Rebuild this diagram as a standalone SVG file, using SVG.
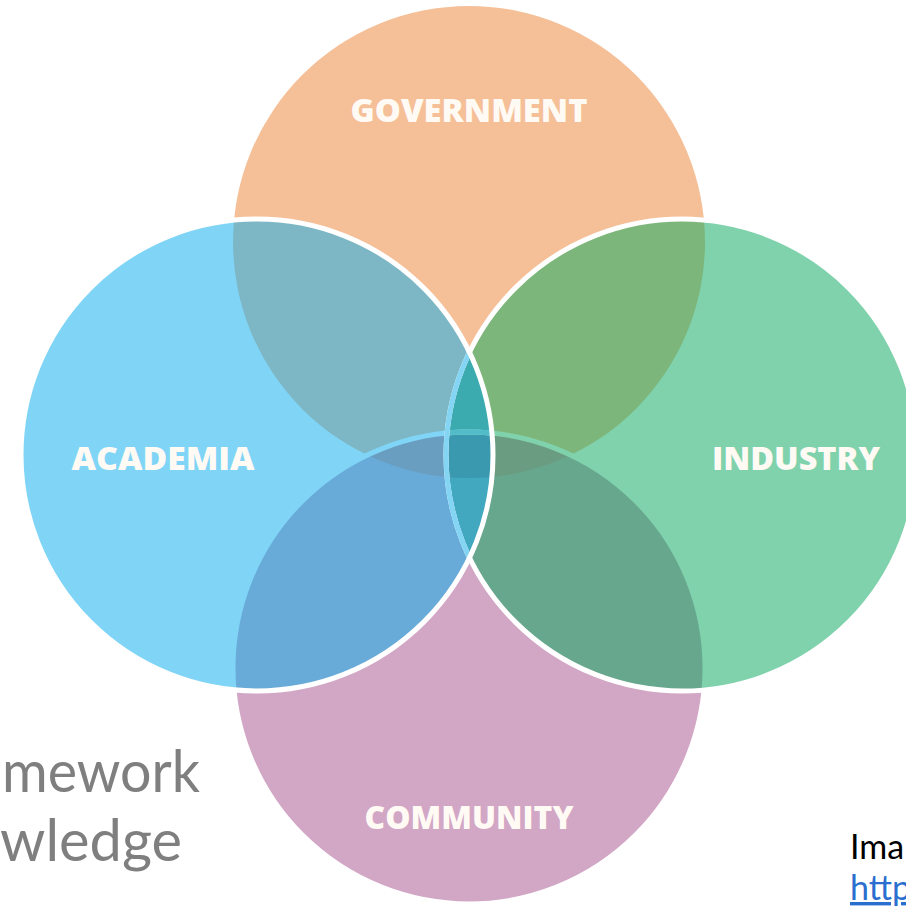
<svg xmlns="http://www.w3.org/2000/svg" width="906" height="908" viewBox="0 0 906 908">
  <style>
    .lbl{font-family:"Open Sans","Liberation Sans",sans-serif;font-weight:800;font-size:32px;fill:#fffaf4;text-anchor:middle}
    .ring{fill:none;stroke-width:5}
    .side{font-family:Lato,"Liberation Sans",sans-serif;font-size:58px;fill:#7f7f7f}
    .note{font-family:Lato,"Liberation Sans",sans-serif;font-size:34px}
  </style>
  <defs>
    <circle id="cG" cx="469" cy="242" r="236"/>
    <circle id="cA" cx="257" cy="455" r="236"/>
    <circle id="cI" cx="682" cy="455" r="236"/>
    <circle id="cC" cx="469" cy="668" r="236"/>
    <!-- lens shapes where two opposite circles meet -->
    <path id="lensGC" d="M367.4 455A236 236 0 0 1 570.6 455A236 236 0 0 1 367.4 455Z"/>
    <path id="lensAI" d="M469.5 352.3A236 236 0 0 1 469.5 557.7A236 236 0 0 1 469.5 352.3Z"/>
    <clipPath id="inG"><use href="#cG"/></clipPath>
    <clipPath id="inA"><use href="#cA"/></clipPath>
    <clipPath id="inI"><use href="#cI"/></clipPath>
    <clipPath id="inC"><use href="#cC"/></clipPath>
    <clipPath id="inGC"><use href="#lensGC"/></clipPath>
    <clipPath id="inAI"><use href="#lensAI"/></clipPath>
  </defs>

  <rect width="906" height="908" fill="#ffffff"/>

  <g id="government">
    <use href="#cG" fill="#f5bf98"/>
    <text class="lbl" x="469" y="122" textLength="237" lengthAdjust="spacingAndGlyphs">GOVERNMENT</text>
  </g>
  <g id="community">
    <use href="#cC" fill="#d2a6c5"/>
    <!-- white rim; the side circles are painted over it -->
    <use href="#cC" class="ring" stroke="#ffffff"/>
    <text class="lbl" x="469" y="829" textLength="209" lengthAdjust="spacingAndGlyphs">COMMUNITY</text>
  </g>
  <g id="academia">
    <use href="#cA" fill="#80d5f7"/>
    <text class="lbl" x="163" y="470" textLength="183" lengthAdjust="spacingAndGlyphs">ACADEMIA</text>
  </g>
  <g id="industry">
    <use href="#cI" fill="#80d2ad"/>
    <text class="lbl" x="796" y="470" textLength="168" lengthAdjust="spacingAndGlyphs">INDUSTRY</text>
  </g>

  <!-- shaded overlap regions -->
  <g id="overlaps">
    <use href="#cG" fill="#7db7c5" clip-path="url(#inA)"/>
    <use href="#cG" fill="#7db67b" clip-path="url(#inI)"/>
    <use href="#cC" fill="#68aad8" clip-path="url(#inA)"/>
    <use href="#cC" fill="#67a78d" clip-path="url(#inI)"/>
    <use href="#lensGC" fill="#6a9ec0" clip-path="url(#inA)"/>
    <use href="#lensGC" fill="#6a9c82" clip-path="url(#inI)"/>
    <use href="#lensAI" fill="#3cabb0" clip-path="url(#inG)"/>
    <use href="#lensAI" fill="#42a8c0" clip-path="url(#inC)"/>
    <use href="#lensAI" fill="#3a99ae" clip-path="url(#inGC)"/>
  </g>

  <!-- circle outlines, tinted where a circle above covers them -->
  <g id="outlines">
    <use href="#cC" class="ring" stroke="#80d5f7" clip-path="url(#inA)"/>
    <use href="#cC" class="ring" stroke="#80d2ad" clip-path="url(#inI)"/>
    <use href="#cC" class="ring" stroke="#52bcc9" clip-path="url(#inAI)"/>
    <use href="#cI" class="ring" stroke="#ffffff"/>
    <use href="#cI" class="ring" stroke="#84d4f4" clip-path="url(#inA)"/>
    <use href="#cA" class="ring" stroke="#ffffff"/>
  </g>

  <g id="captions">
    <text class="side" x="2" y="792" textLength="198" lengthAdjust="spacingAndGlyphs">mework</text>
    <text class="side" x="0" y="861" textLength="182" lengthAdjust="spacingAndGlyphs">wledge</text>
    <text class="note" x="850" y="859" fill="#000000">Ima</text>
    <text class="note" x="850" y="900" fill="#2a6fcf" text-decoration="underline">http</text>
  </g>
</svg>
